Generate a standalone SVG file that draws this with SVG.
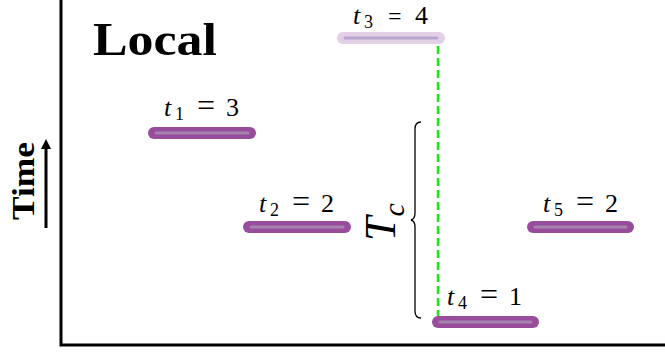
<svg xmlns="http://www.w3.org/2000/svg" width="665" height="354" viewBox="0 0 665 354">
<defs>
<style>
.bar{stroke:#984c9c;stroke-width:12;stroke-linecap:round;fill:none}
.inner{stroke:#a682ae;stroke-width:3;stroke-linecap:round;fill:none}
.barl{stroke:#e3d0e6;stroke-width:12;stroke-linecap:round;fill:none}
.innerl{stroke:#b7a6d0;stroke-width:3;stroke-linecap:round;fill:none}
.lbl{font-family:"Liberation Serif",serif;font-size:26px;fill:#000}
.it{font-style:italic}
.sub{font-size:18px}
.eq{font-size:32px}
</style>
<marker id="ah" viewBox="0 0 10 10" refX="5" refY="5" markerWidth="10" markerHeight="10" markerUnits="userSpaceOnUse" orient="auto">
<path d="M0,0 L10,5 L0,10 Z" fill="#000"/>
</marker>
</defs>
<rect width="665" height="354" fill="#fff"/>
<g id="axes" fill="none" stroke="#000" stroke-width="3">
<path d="M61,0 V345 H665"/>
</g>
<text id="title" x="93" y="55" font-family="Liberation Serif,serif" font-weight="bold" font-size="46" textLength="124" lengthAdjust="spacingAndGlyphs">Local</text>
<g id="time-axis">
<line x1="46" y1="228" x2="46" y2="144" stroke="#000" stroke-width="3" marker-end="url(#ah)"/>
<text transform="translate(34,181) rotate(-90)" text-anchor="middle" font-family="Liberation Serif,serif" font-weight="bold" font-size="32" textLength="78" lengthAdjust="spacingAndGlyphs">Time</text>
</g>
<g id="connectors">
<line x1="438" y1="46" x2="438" y2="318" stroke="#11ee11" stroke-width="2.5" stroke-dasharray="8,4"/>
<path d="M421,122 Q415,122 415,129 V213 Q415,219 411,220 Q415,221 415,227 V311 Q415,318 421,318" fill="none" stroke="#000" stroke-width="1.3"/>
<text transform="translate(395,222) rotate(-90)" text-anchor="middle" font-family="Liberation Serif,serif" font-style="italic" font-size="44">T<tspan font-size="30" dy="9">c</tspan></text>
</g>
<g id="t1">
<line class="bar" x1="154" y1="133" x2="250" y2="133"/>
<line class="inner" x1="156" y1="133" x2="248" y2="133"/>
<text class="lbl" y="116"><tspan class="it" x="164">t</tspan><tspan class="sub" x="175" dy="4">1</tspan><tspan class="eq" x="197" dy="-4">=</tspan><tspan x="226">3</tspan></text>
</g>
<g id="t3">
<line class="barl" x1="343" y1="38" x2="439" y2="38"/>
<line class="innerl" x1="345" y1="38" x2="437" y2="38"/>
<text class="lbl" y="24" font-size="24"><tspan class="it" x="353">t</tspan><tspan class="sub" x="364" dy="4">3</tspan><tspan x="388" dy="-4" font-size="24">=</tspan><tspan x="415">4</tspan></text>
</g>
<g id="t2">
<line class="bar" x1="249" y1="227" x2="345" y2="227"/>
<line class="inner" x1="251" y1="227" x2="343" y2="227"/>
<text class="lbl" y="212"><tspan class="it" x="259">t</tspan><tspan class="sub" x="270" dy="4">2</tspan><tspan class="eq" x="292" dy="-4">=</tspan><tspan x="321">2</tspan></text>
</g>
<g id="t5">
<line class="bar" x1="533" y1="227" x2="628" y2="227"/>
<line class="inner" x1="535" y1="227" x2="626" y2="227"/>
<text class="lbl" y="212"><tspan class="it" x="543">t</tspan><tspan class="sub" x="554" dy="4">5</tspan><tspan class="eq" x="576" dy="-4">=</tspan><tspan x="605">2</tspan></text>
</g>
<g id="t4">
<line class="bar" x1="438" y1="322" x2="533" y2="322"/>
<line class="inner" x1="440" y1="322" x2="531" y2="322"/>
<text class="lbl" y="305"><tspan class="it" x="447">t</tspan><tspan class="sub" x="458" dy="4">4</tspan><tspan class="eq" x="480" dy="-4">=</tspan><tspan x="509">1</tspan></text>
</g>
</svg>
